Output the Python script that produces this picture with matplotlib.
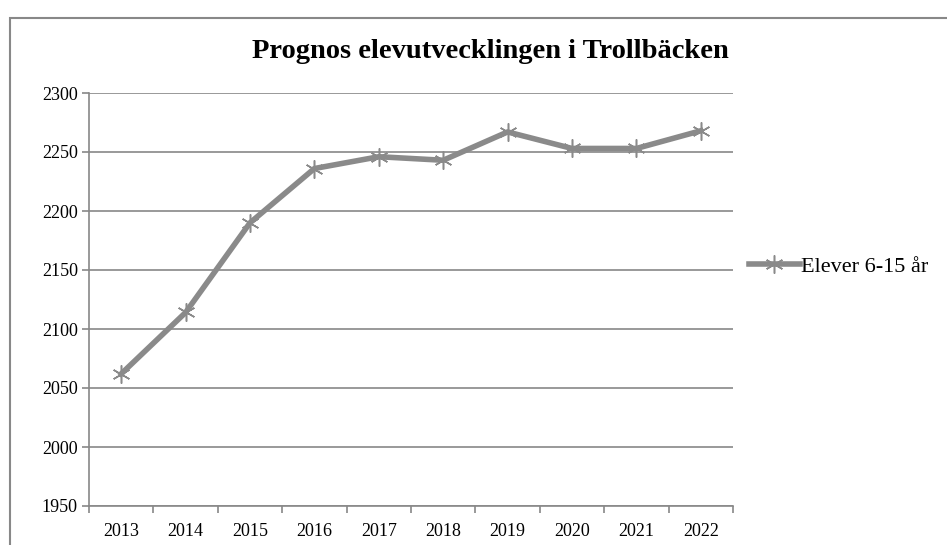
import matplotlib
matplotlib.use('Agg')
import matplotlib.pyplot as plt
from matplotlib.patches import Rectangle
import numpy as np

years = ['2013', '2014', '2015', '2016', '2017', '2018', '2019', '2020', '2021', '2022']
elever = [2062, 2114, 2190, 2236, 2246, 2243, 2267, 2253, 2253, 2268]

plt.rcParams['font.family'] = ['Liberation Serif', 'DejaVu Serif']
grey = '#888888'

fig = plt.figure(figsize=(9.47, 5.45), dpi=100)
ax = fig.add_axes([89/947, 1-506/545, (733-89)/947, (506-93)/545])

# outer chart frame (cut off at right and bottom like the original)
fig.patches.append(Rectangle((10/947, -0.1), 1.2, 1-18/545+0.1, transform=fig.transFigure,
                             fill=False, edgecolor=grey, linewidth=1.5))

x = np.arange(len(years))
ax.plot(x, elever, color='#8a8a8a', linewidth=4, marker=(6, 2, 0), markersize=13,
        markeredgewidth=1.1, markeredgecolor='#8a8a8a', label='Elever 6-15 år')

ax.set_xlim(-0.5, len(years) - 0.5)
ax.set_ylim(1950, 2300)
ax.set_yticks(np.arange(1950, 2301, 50))
ax.set_xticks(x)
ax.set_xticklabels(years)
ax.set_xticks(np.arange(-0.5, len(years), 1), minor=True)
ax.tick_params(axis='x', which='major', length=0, pad=12, labelsize=13)
ax.tick_params(axis='x', which='minor', length=5, color=grey, width=1.2)
ax.tick_params(axis='y', length=5, color=grey, width=1.2, labelsize=13, pad=3)

ax.grid(axis='y', color=grey, linewidth=1.2)
ax.set_axisbelow(True)
for s in ['top', 'right']:
    ax.spines[s].set_visible(False)
for s in ['left', 'bottom']:
    ax.spines[s].set_color(grey)
    ax.spines[s].set_linewidth(1.2)

fig.text(490/947, 1-51/545, 'Prognos elevutvecklingen i Trollbäcken', ha='center', va='center',
         fontsize=20.5, fontweight='bold')

ax.legend(loc='center left', bbox_to_anchor=(1.0, 0.58), frameon=False, fontsize=16,
          handlelength=2.3, handletextpad=0.05, borderaxespad=0.3)

fig.savefig('out.png', dpi=100)
